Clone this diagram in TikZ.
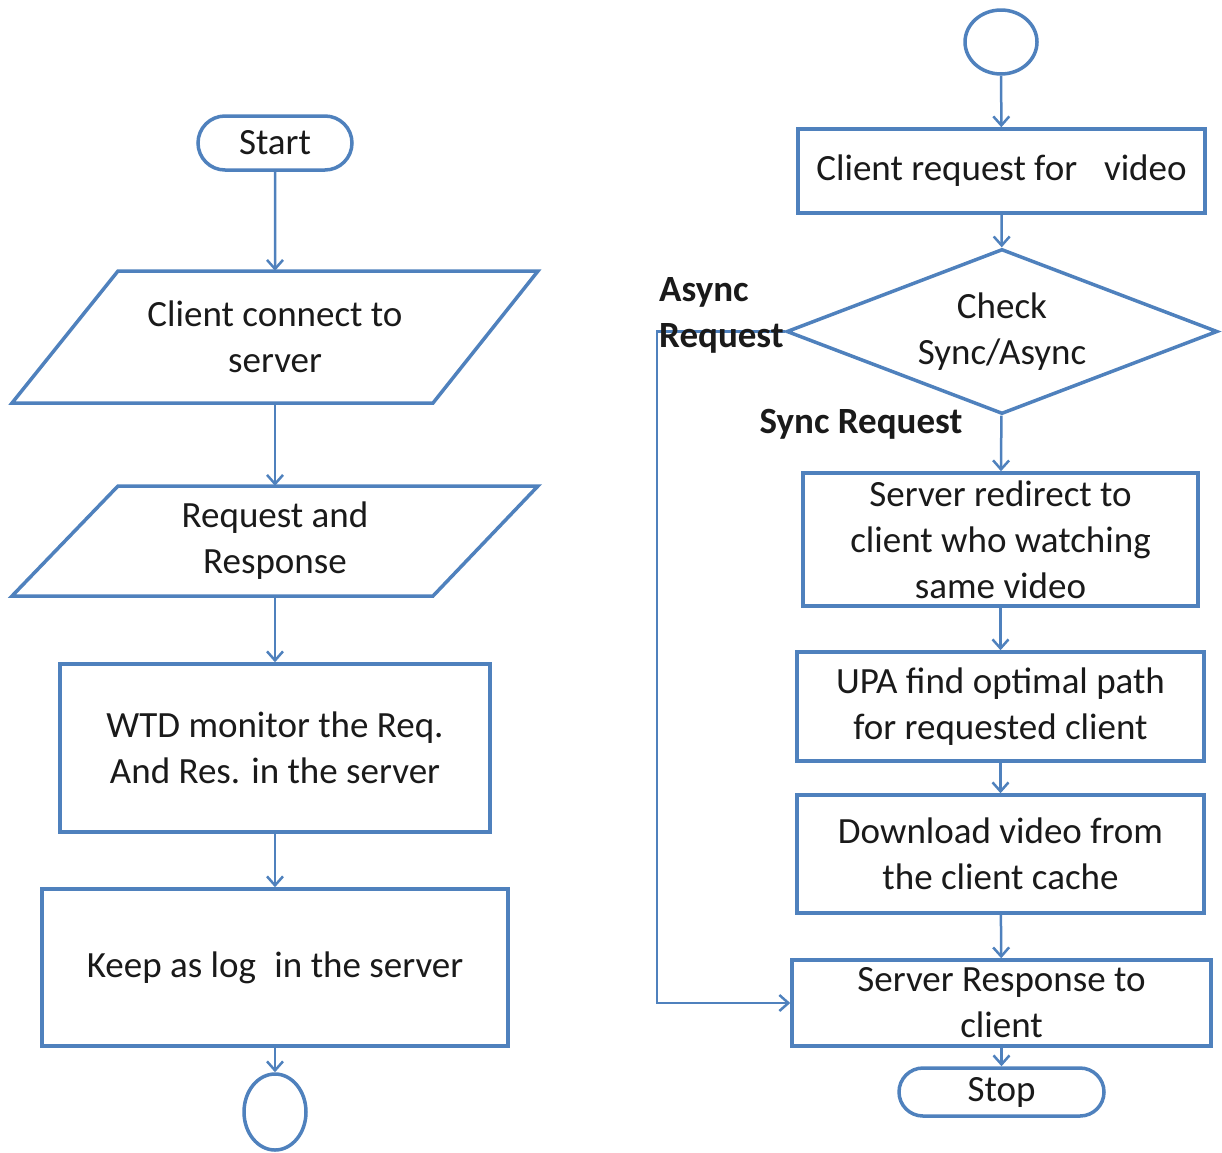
\documentclass[tikz,border=0pt]{standalone}
\usepackage{fontspec}
\setmainfont{Carlito}
\usetikzlibrary{shapes.geometric,shapes.misc,arrows.meta}
\definecolor{lineblue}{HTML}{4F81BD}
\definecolor{txt}{HTML}{1A1A1A}
\tikzset{
  every node/.style={text=txt,font=\fontsize{37}{46}\selectfont},
  box/.style={draw=lineblue,line width=3.5pt,fill=white,rectangle,align=center,inner sep=0pt},
  term/.style={draw=lineblue,line width=3.5pt,fill=white,rounded rectangle,inner sep=0pt},
  oval/.style={draw=lineblue,line width=3.5pt,fill=white,ellipse,inner sep=0pt},
  pshape/.style={draw=lineblue,line width=3.5pt,fill=white},
  arr/.style={draw=lineblue,line width=2.5pt,-{Straight Barb[length=9pt,width=16pt,line width=2.5pt]}},
  lbl/.style={font=\bfseries\fontsize{37}{46}\selectfont,align=left,inner sep=0pt},
}
\begin{document}
\begin{tikzpicture}[x=1pt,y=-1pt]
\useasboundingbox (0,0) rectangle (1222,1152);
% left column
\node[term,minimum width=154,minimum height=54] (start) at (275,143) {Start};
\draw[pshape] (118,271) -- (538,271) -- (433,403) -- (12,403) -- cycle;
\node[align=center,minimum width=420,minimum height=132,inner sep=0pt] (p1) at (275,337) {Client connect to\\server};
\draw[pshape] (118,486) -- (538,486) -- (433,596) -- (12,596) -- cycle;
\node[align=center,minimum width=420,minimum height=110,inner sep=0pt] (p2) at (275,541) {Request and\\Response};
\node[box,minimum width=430,minimum height=168] (wtd) at (275,748) {WTD monitor the Req.\\And Res. in the server};
\node[box,minimum width=466,minimum height=157] (keep) at (275,967.5) {Keep as log\enspace in the server};
\node[oval,minimum width=62,minimum height=76] (endl) at (275,1112) {};
\draw[arr] (start) -- (p1);
\draw[arr] (p1) -- (p2);
\draw[arr] (p2) -- (wtd);
\draw[arr] (wtd) -- (keep);
\draw[arr] (keep) -- (endl);
% right column
\node[oval,minimum width=72,minimum height=64] (top) at (1001,42) {};
\node[box,minimum width=407,minimum height=84] (req) at (1001.5,171) {Client request for\enspace\ video};
\node[draw=lineblue,line width=3.5pt,fill=white,diamond,aspect=2.6,inner sep=0pt,minimum width=431,minimum height=165,align=center] (chk) at (1002,331.5) {Check\\Sync/Async};
\node[box,minimum width=395,minimum height=133] (redir) at (1000.5,539.5) {Server redirect to\\client who watching\\same video};
\node[box,minimum width=407,minimum height=109] (upa) at (1000.5,706.5) {UPA find optimal path\\for requested client};
\node[box,minimum width=407,minimum height=118] (dl) at (1000.5,854) {Download video from\\the client cache};
\node[box,minimum width=419,minimum height=86] (resp) at (1001.5,1003) {Server Response to\\client};
\node[term,minimum width=205,minimum height=48] (stop) at (1001.5,1092) {Stop};
\draw[arr] (top) -- (req);
\draw[arr] (req) -- (chk);
\draw[arr] (chk) -- (redir);
\draw[arr] (redir) -- (upa);
\draw[arr] (upa) -- (dl);
\draw[arr] (dl) -- (resp);
\draw[arr] (resp) -- (stop);
\coordinate (bend) at (657,331.5);
\draw[arr] (chk.west) -- (bend) |- (resp.west);
\node[lbl,anchor=west] (alab) at (659,315) {Async\\Request};
\node[lbl] (slab) at (861,424) {Sync Request};
\end{tikzpicture}
\end{document}
